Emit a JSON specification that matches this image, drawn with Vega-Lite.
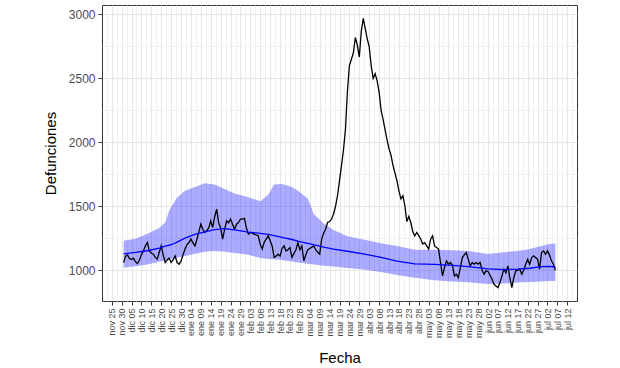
{
  "$schema": "https://vega.github.io/schema/vega-lite/v6.json",
  "width": 475,
  "height": 296,
  "autosize": {"type": "none"},
  "padding": {"left": 102, "top": 5, "right": 43, "bottom": 67},
  "background": "white",
  "config": {
    "view": {"stroke": "#333333", "strokeWidth": 1},
    "axis": {
      "labelFont": "Liberation Sans",
      "titleFont": "Liberation Sans",
      "labelColor": "#4D4D4D",
      "tickColor": "#333333",
      "domain": false,
      "gridColor": "#E6E6E6",
      "gridWidth": 1,
      "titleFontWeight": "normal",
      "titleColor": "#000000",
      "titleFontSize": 15,
      "tickSize": 4,
      "labelPadding": 3
    }
  },
  "datasets": {
    "obs": [
      {"fecha": "2019-12-01", "defunciones": 1060}, {"fecha": "2019-12-02", "defunciones": 1110}, {"fecha": "2019-12-03", "defunciones": 1120}, {"fecha": "2019-12-04", "defunciones": 1090}, {"fecha": "2019-12-05", "defunciones": 1085}, {"fecha": "2019-12-06", "defunciones": 1094}, {"fecha": "2019-12-07", "defunciones": 1065}, {"fecha": "2019-12-08", "defunciones": 1052}, {"fecha": "2019-12-09", "defunciones": 1080}, {"fecha": "2019-12-10", "defunciones": 1120},
      {"fecha": "2019-12-11", "defunciones": 1151}, {"fecha": "2019-12-12", "defunciones": 1190}, {"fecha": "2019-12-13", "defunciones": 1216}, {"fecha": "2019-12-14", "defunciones": 1150}, {"fecha": "2019-12-15", "defunciones": 1135}, {"fecha": "2019-12-16", "defunciones": 1125}, {"fecha": "2019-12-17", "defunciones": 1100}, {"fecha": "2019-12-18", "defunciones": 1086}, {"fecha": "2019-12-19", "defunciones": 1140}, {"fecha": "2019-12-20", "defunciones": 1190},
      {"fecha": "2019-12-21", "defunciones": 1120}, {"fecha": "2019-12-22", "defunciones": 1060}, {"fecha": "2019-12-23", "defunciones": 1080}, {"fecha": "2019-12-24", "defunciones": 1094}, {"fecha": "2019-12-25", "defunciones": 1060}, {"fecha": "2019-12-26", "defunciones": 1080}, {"fecha": "2019-12-27", "defunciones": 1112}, {"fecha": "2019-12-28", "defunciones": 1060}, {"fecha": "2019-12-29", "defunciones": 1047}, {"fecha": "2019-12-30", "defunciones": 1070},
      {"fecha": "2019-12-31", "defunciones": 1120}, {"fecha": "2020-01-01", "defunciones": 1165}, {"fecha": "2020-01-02", "defunciones": 1200}, {"fecha": "2020-01-03", "defunciones": 1216}, {"fecha": "2020-01-04", "defunciones": 1243}, {"fecha": "2020-01-05", "defunciones": 1215}, {"fecha": "2020-01-06", "defunciones": 1190}, {"fecha": "2020-01-07", "defunciones": 1240}, {"fecha": "2020-01-08", "defunciones": 1300}, {"fecha": "2020-01-09", "defunciones": 1360},
      {"fecha": "2020-01-10", "defunciones": 1320}, {"fecha": "2020-01-11", "defunciones": 1295}, {"fecha": "2020-01-12", "defunciones": 1310}, {"fecha": "2020-01-13", "defunciones": 1330}, {"fecha": "2020-01-14", "defunciones": 1386}, {"fecha": "2020-01-15", "defunciones": 1334}, {"fecha": "2020-01-16", "defunciones": 1420}, {"fecha": "2020-01-17", "defunciones": 1478}, {"fecha": "2020-01-18", "defunciones": 1370}, {"fecha": "2020-01-19", "defunciones": 1330},
      {"fecha": "2020-01-20", "defunciones": 1243}, {"fecha": "2020-01-21", "defunciones": 1320}, {"fecha": "2020-01-22", "defunciones": 1386}, {"fecha": "2020-01-23", "defunciones": 1370}, {"fecha": "2020-01-24", "defunciones": 1400}, {"fecha": "2020-01-25", "defunciones": 1360}, {"fecha": "2020-01-26", "defunciones": 1321}, {"fecha": "2020-01-27", "defunciones": 1360}, {"fecha": "2020-01-28", "defunciones": 1373}, {"fecha": "2020-01-29", "defunciones": 1400},
      {"fecha": "2020-01-30", "defunciones": 1400}, {"fecha": "2020-01-31", "defunciones": 1405}, {"fecha": "2020-02-01", "defunciones": 1330}, {"fecha": "2020-02-02", "defunciones": 1282}, {"fecha": "2020-02-03", "defunciones": 1295}, {"fecha": "2020-02-04", "defunciones": 1290}, {"fecha": "2020-02-05", "defunciones": 1282}, {"fecha": "2020-02-06", "defunciones": 1275}, {"fecha": "2020-02-07", "defunciones": 1269}, {"fecha": "2020-02-08", "defunciones": 1200},
      {"fecha": "2020-02-09", "defunciones": 1165}, {"fecha": "2020-02-10", "defunciones": 1220}, {"fecha": "2020-02-11", "defunciones": 1243}, {"fecha": "2020-02-12", "defunciones": 1269}, {"fecha": "2020-02-13", "defunciones": 1230}, {"fecha": "2020-02-14", "defunciones": 1190}, {"fecha": "2020-02-15", "defunciones": 1100}, {"fecha": "2020-02-16", "defunciones": 1110}, {"fecha": "2020-02-17", "defunciones": 1125}, {"fecha": "2020-02-18", "defunciones": 1110},
      {"fecha": "2020-02-19", "defunciones": 1170}, {"fecha": "2020-02-20", "defunciones": 1190}, {"fecha": "2020-02-21", "defunciones": 1150}, {"fecha": "2020-02-22", "defunciones": 1160}, {"fecha": "2020-02-23", "defunciones": 1177}, {"fecha": "2020-02-24", "defunciones": 1100}, {"fecha": "2020-02-25", "defunciones": 1130}, {"fecha": "2020-02-26", "defunciones": 1160}, {"fecha": "2020-02-27", "defunciones": 1216}, {"fecha": "2020-02-28", "defunciones": 1160},
      {"fecha": "2020-02-29", "defunciones": 1190}, {"fecha": "2020-03-01", "defunciones": 1073}, {"fecha": "2020-03-02", "defunciones": 1120}, {"fecha": "2020-03-03", "defunciones": 1160}, {"fecha": "2020-03-04", "defunciones": 1170}, {"fecha": "2020-03-05", "defunciones": 1180}, {"fecha": "2020-03-06", "defunciones": 1190}, {"fecha": "2020-03-07", "defunciones": 1160}, {"fecha": "2020-03-08", "defunciones": 1140}, {"fecha": "2020-03-09", "defunciones": 1125},
      {"fecha": "2020-03-10", "defunciones": 1243}, {"fecha": "2020-03-11", "defunciones": 1290}, {"fecha": "2020-03-12", "defunciones": 1320}, {"fecha": "2020-03-13", "defunciones": 1373}, {"fecha": "2020-03-14", "defunciones": 1380}, {"fecha": "2020-03-15", "defunciones": 1400}, {"fecha": "2020-03-16", "defunciones": 1440}, {"fecha": "2020-03-17", "defunciones": 1500}, {"fecha": "2020-03-18", "defunciones": 1583}, {"fecha": "2020-03-19", "defunciones": 1700},
      {"fecha": "2020-03-20", "defunciones": 1818}, {"fecha": "2020-03-21", "defunciones": 1940}, {"fecha": "2020-03-22", "defunciones": 2100}, {"fecha": "2020-03-23", "defunciones": 2400}, {"fecha": "2020-03-24", "defunciones": 2600}, {"fecha": "2020-03-25", "defunciones": 2650}, {"fecha": "2020-03-26", "defunciones": 2700}, {"fecha": "2020-03-27", "defunciones": 2820}, {"fecha": "2020-03-28", "defunciones": 2760}, {"fecha": "2020-03-29", "defunciones": 2667},
      {"fecha": "2020-03-30", "defunciones": 2870}, {"fecha": "2020-03-31", "defunciones": 2969}, {"fecha": "2020-04-01", "defunciones": 2890}, {"fecha": "2020-04-02", "defunciones": 2810}, {"fecha": "2020-04-03", "defunciones": 2746}, {"fecha": "2020-04-04", "defunciones": 2600}, {"fecha": "2020-04-05", "defunciones": 2500}, {"fecha": "2020-04-06", "defunciones": 2537}, {"fecha": "2020-04-07", "defunciones": 2480}, {"fecha": "2020-04-08", "defunciones": 2393},
      {"fecha": "2020-04-09", "defunciones": 2250}, {"fecha": "2020-04-10", "defunciones": 2180}, {"fecha": "2020-04-11", "defunciones": 2100}, {"fecha": "2020-04-12", "defunciones": 2020}, {"fecha": "2020-04-13", "defunciones": 1950}, {"fecha": "2020-04-14", "defunciones": 1900}, {"fecha": "2020-04-15", "defunciones": 1820}, {"fecha": "2020-04-16", "defunciones": 1760}, {"fecha": "2020-04-17", "defunciones": 1700}, {"fecha": "2020-04-18", "defunciones": 1620},
      {"fecha": "2020-04-19", "defunciones": 1558}, {"fecha": "2020-04-20", "defunciones": 1583}, {"fecha": "2020-04-21", "defunciones": 1504}, {"fecha": "2020-04-22", "defunciones": 1380}, {"fecha": "2020-04-23", "defunciones": 1420}, {"fecha": "2020-04-24", "defunciones": 1373}, {"fecha": "2020-04-25", "defunciones": 1300}, {"fecha": "2020-04-26", "defunciones": 1269}, {"fecha": "2020-04-27", "defunciones": 1295}, {"fecha": "2020-04-28", "defunciones": 1270},
      {"fecha": "2020-04-29", "defunciones": 1243}, {"fecha": "2020-04-30", "defunciones": 1204}, {"fecha": "2020-05-01", "defunciones": 1215}, {"fecha": "2020-05-02", "defunciones": 1190}, {"fecha": "2020-05-03", "defunciones": 1165}, {"fecha": "2020-05-04", "defunciones": 1243}, {"fecha": "2020-05-05", "defunciones": 1269}, {"fecha": "2020-05-06", "defunciones": 1190}, {"fecha": "2020-05-07", "defunciones": 1177}, {"fecha": "2020-05-08", "defunciones": 1165},
      {"fecha": "2020-05-09", "defunciones": 1060}, {"fecha": "2020-05-10", "defunciones": 955}, {"fecha": "2020-05-11", "defunciones": 1020}, {"fecha": "2020-05-12", "defunciones": 1073}, {"fecha": "2020-05-13", "defunciones": 1047}, {"fecha": "2020-05-14", "defunciones": 1060}, {"fecha": "2020-05-15", "defunciones": 1040}, {"fecha": "2020-05-16", "defunciones": 955}, {"fecha": "2020-05-17", "defunciones": 969}, {"fecha": "2020-05-18", "defunciones": 942},
      {"fecha": "2020-05-19", "defunciones": 1020}, {"fecha": "2020-05-20", "defunciones": 1099}, {"fecha": "2020-05-21", "defunciones": 1120}, {"fecha": "2020-05-22", "defunciones": 1138}, {"fecha": "2020-05-23", "defunciones": 1086}, {"fecha": "2020-05-24", "defunciones": 1034}, {"fecha": "2020-05-25", "defunciones": 1060}, {"fecha": "2020-05-26", "defunciones": 1047}, {"fecha": "2020-05-27", "defunciones": 1060}, {"fecha": "2020-05-28", "defunciones": 1047},
      {"fecha": "2020-05-29", "defunciones": 1060}, {"fecha": "2020-05-30", "defunciones": 1000}, {"fecha": "2020-05-31", "defunciones": 969}, {"fecha": "2020-06-01", "defunciones": 995}, {"fecha": "2020-06-02", "defunciones": 990}, {"fecha": "2020-06-03", "defunciones": 960}, {"fecha": "2020-06-04", "defunciones": 929}, {"fecha": "2020-06-05", "defunciones": 890}, {"fecha": "2020-06-06", "defunciones": 877}, {"fecha": "2020-06-07", "defunciones": 864},
      {"fecha": "2020-06-08", "defunciones": 903}, {"fecha": "2020-06-09", "defunciones": 955}, {"fecha": "2020-06-10", "defunciones": 1008}, {"fecha": "2020-06-11", "defunciones": 980}, {"fecha": "2020-06-12", "defunciones": 1034}, {"fecha": "2020-06-13", "defunciones": 940}, {"fecha": "2020-06-14", "defunciones": 864}, {"fecha": "2020-06-15", "defunciones": 942}, {"fecha": "2020-06-16", "defunciones": 995}, {"fecha": "2020-06-17", "defunciones": 1000},
      {"fecha": "2020-06-18", "defunciones": 1008}, {"fecha": "2020-06-19", "defunciones": 969}, {"fecha": "2020-06-20", "defunciones": 1000}, {"fecha": "2020-06-21", "defunciones": 1047}, {"fecha": "2020-06-22", "defunciones": 1086}, {"fecha": "2020-06-23", "defunciones": 1047}, {"fecha": "2020-06-24", "defunciones": 1099}, {"fecha": "2020-06-25", "defunciones": 1112}, {"fecha": "2020-06-26", "defunciones": 1100}, {"fecha": "2020-06-27", "defunciones": 1086},
      {"fecha": "2020-06-28", "defunciones": 1008}, {"fecha": "2020-06-29", "defunciones": 1138}, {"fecha": "2020-06-30", "defunciones": 1151}, {"fecha": "2020-07-01", "defunciones": 1125}, {"fecha": "2020-07-02", "defunciones": 1151}, {"fecha": "2020-07-03", "defunciones": 1120}, {"fecha": "2020-07-04", "defunciones": 1073}, {"fecha": "2020-07-05", "defunciones": 1047}, {"fecha": "2020-07-06", "defunciones": 1000}
    ],
    "modelo": [
      {"fecha": "2019-12-01", "esperadas": 1128, "inferior": 1020, "superior": 1230},
      {"fecha": "2019-12-07", "esperadas": 1140, "inferior": 1030, "superior": 1245},
      {"fecha": "2019-12-13", "esperadas": 1152, "inferior": 1045, "superior": 1285},
      {"fecha": "2019-12-19", "esperadas": 1172, "inferior": 1065, "superior": 1330},
      {"fecha": "2019-12-22", "esperadas": 1188, "inferior": 1075, "superior": 1373},
      {"fecha": "2019-12-24", "esperadas": 1195, "inferior": 1082, "superior": 1465},
      {"fecha": "2019-12-26", "esperadas": 1205, "inferior": 1090, "superior": 1520},
      {"fecha": "2019-12-28", "esperadas": 1220, "inferior": 1098, "superior": 1569},
      {"fecha": "2020-01-01", "esperadas": 1250, "inferior": 1110, "superior": 1622},
      {"fecha": "2020-01-06", "esperadas": 1280, "inferior": 1128, "superior": 1650},
      {"fecha": "2020-01-11", "esperadas": 1300, "inferior": 1145, "superior": 1679},
      {"fecha": "2020-01-16", "esperadas": 1318, "inferior": 1150, "superior": 1670},
      {"fecha": "2020-01-21", "esperadas": 1325, "inferior": 1145, "superior": 1635},
      {"fecha": "2020-01-26", "esperadas": 1315, "inferior": 1135, "superior": 1600},
      {"fecha": "2020-02-02", "esperadas": 1298, "inferior": 1120, "superior": 1570},
      {"fecha": "2020-02-08", "esperadas": 1288, "inferior": 1095, "superior": 1540},
      {"fecha": "2020-02-12", "esperadas": 1280, "inferior": 1088, "superior": 1590},
      {"fecha": "2020-02-15", "esperadas": 1270, "inferior": 1085, "superior": 1670},
      {"fecha": "2020-02-19", "esperadas": 1256, "inferior": 1080, "superior": 1675},
      {"fecha": "2020-02-24", "esperadas": 1240, "inferior": 1068, "superior": 1650},
      {"fecha": "2020-02-27", "esperadas": 1228, "inferior": 1060, "superior": 1622},
      {"fecha": "2020-03-03", "esperadas": 1210, "inferior": 1050, "superior": 1560},
      {"fecha": "2020-03-06", "esperadas": 1200, "inferior": 1045, "superior": 1440},
      {"fecha": "2020-03-11", "esperadas": 1180, "inferior": 1034, "superior": 1365},
      {"fecha": "2020-03-16", "esperadas": 1165, "inferior": 1028, "superior": 1315},
      {"fecha": "2020-03-23", "esperadas": 1148, "inferior": 1018, "superior": 1265},
      {"fecha": "2020-03-31", "esperadas": 1128, "inferior": 1005, "superior": 1240},
      {"fecha": "2020-04-09", "esperadas": 1100, "inferior": 985, "superior": 1210},
      {"fecha": "2020-04-17", "esperadas": 1070, "inferior": 962, "superior": 1190},
      {"fecha": "2020-04-26", "esperadas": 1050, "inferior": 940, "superior": 1160},
      {"fecha": "2020-05-06", "esperadas": 1045, "inferior": 922, "superior": 1160},
      {"fecha": "2020-05-15", "esperadas": 1038, "inferior": 912, "superior": 1155},
      {"fecha": "2020-05-23", "esperadas": 1028, "inferior": 905, "superior": 1150},
      {"fecha": "2020-06-02", "esperadas": 1010, "inferior": 892, "superior": 1127},
      {"fecha": "2020-06-10", "esperadas": 1005, "inferior": 895, "superior": 1140},
      {"fecha": "2020-06-17", "esperadas": 1008, "inferior": 903, "superior": 1151},
      {"fecha": "2020-06-23", "esperadas": 1015, "inferior": 908, "superior": 1165},
      {"fecha": "2020-06-29", "esperadas": 1028, "inferior": 912, "superior": 1190},
      {"fecha": "2020-07-03", "esperadas": 1030, "inferior": 915, "superior": 1205},
      {"fecha": "2020-07-06", "esperadas": 1025, "inferior": 916, "superior": 1209}
    ]
  },
  "layer": [
    {
      "data": {"name": "modelo"},
      "mark": {"type": "area", "color": "#0000FF", "opacity": 0.33},
      "encoding": {
        "x": {
          "field": "fecha", "type": "temporal",
          "scale": {"type": "utc", "domain": [{"year": 2019, "month": 11, "date": 20, "hours": 2, "minutes": 24, "utc": true}, {"year": 2020, "month": 7, "date": 16, "hours": 21, "minutes": 36, "utc": true}]},
          "axis": {
            "orient": "bottom",
            "title": "Fecha",
            "titlePadding": 13,
            "labelAngle": -90,
            "labelFontSize": 9,
            "labelOverlap": false,
            "labelFlush": false,
            "labelBound": false,
            "grid": true,
            "gridColor": "#E6E6E6",
            "labelExpr": "['ene','feb','mar','abr','may','jun','jul','ago','sep','oct','nov','dic'][utcmonth(datum.value)] + ' ' + utcFormat(datum.value, '%d')",
            "values": [
              {"year": 2019, "month": 11, "date": 25, "utc": true}, {"year": 2019, "month": 11, "date": 30, "utc": true},
              {"year": 2019, "month": 12, "date": 5, "utc": true}, {"year": 2019, "month": 12, "date": 10, "utc": true}, {"year": 2019, "month": 12, "date": 15, "utc": true}, {"year": 2019, "month": 12, "date": 20, "utc": true}, {"year": 2019, "month": 12, "date": 25, "utc": true}, {"year": 2019, "month": 12, "date": 30, "utc": true},
              {"year": 2020, "month": 1, "date": 4, "utc": true}, {"year": 2020, "month": 1, "date": 9, "utc": true}, {"year": 2020, "month": 1, "date": 14, "utc": true}, {"year": 2020, "month": 1, "date": 19, "utc": true}, {"year": 2020, "month": 1, "date": 24, "utc": true}, {"year": 2020, "month": 1, "date": 29, "utc": true},
              {"year": 2020, "month": 2, "date": 3, "utc": true}, {"year": 2020, "month": 2, "date": 8, "utc": true}, {"year": 2020, "month": 2, "date": 13, "utc": true}, {"year": 2020, "month": 2, "date": 18, "utc": true}, {"year": 2020, "month": 2, "date": 23, "utc": true}, {"year": 2020, "month": 2, "date": 28, "utc": true},
              {"year": 2020, "month": 3, "date": 4, "utc": true}, {"year": 2020, "month": 3, "date": 9, "utc": true}, {"year": 2020, "month": 3, "date": 14, "utc": true}, {"year": 2020, "month": 3, "date": 19, "utc": true}, {"year": 2020, "month": 3, "date": 24, "utc": true}, {"year": 2020, "month": 3, "date": 29, "utc": true},
              {"year": 2020, "month": 4, "date": 3, "utc": true}, {"year": 2020, "month": 4, "date": 8, "utc": true}, {"year": 2020, "month": 4, "date": 13, "utc": true}, {"year": 2020, "month": 4, "date": 18, "utc": true}, {"year": 2020, "month": 4, "date": 23, "utc": true}, {"year": 2020, "month": 4, "date": 28, "utc": true},
              {"year": 2020, "month": 5, "date": 3, "utc": true}, {"year": 2020, "month": 5, "date": 8, "utc": true}, {"year": 2020, "month": 5, "date": 13, "utc": true}, {"year": 2020, "month": 5, "date": 18, "utc": true}, {"year": 2020, "month": 5, "date": 23, "utc": true}, {"year": 2020, "month": 5, "date": 28, "utc": true},
              {"year": 2020, "month": 6, "date": 2, "utc": true}, {"year": 2020, "month": 6, "date": 7, "utc": true}, {"year": 2020, "month": 6, "date": 12, "utc": true}, {"year": 2020, "month": 6, "date": 17, "utc": true}, {"year": 2020, "month": 6, "date": 22, "utc": true}, {"year": 2020, "month": 6, "date": 27, "utc": true},
              {"year": 2020, "month": 7, "date": 2, "utc": true}, {"year": 2020, "month": 7, "date": 7, "utc": true}, {"year": 2020, "month": 7, "date": 12, "utc": true}
            ]
          }
        },
        "y": {
          "field": "inferior", "type": "quantitative",
          "scale": {"domain": [759, 3074], "nice": false, "zero": false},
          "axis": {
            "orient": "left",
            "title": "Defunciones",
            "titlePadding": 10,
            "labelFontSize": 12,
            "format": "d",
            "grid": true,
            "gridColor": "#E6E6E6",
            "values": [1000, 1500, 2000, 2500, 3000]
          }
        },
        "y2": {"field": "superior"}
      }
    },
    {
      "data": {"name": "obs"},
      "mark": {"type": "line", "color": "#000000", "strokeWidth": 1.3},
      "encoding": {
        "x": {
          "field": "fecha", "type": "temporal",
          "axis": {
            "orient": "top", "title": null, "labels": false, "ticks": false, "domain": false,
            "grid": true, "gridColor": "#F1F1F1",
            "values": [
              {"year": 2019, "month": 11, "date": 22, "hours": 12, "utc": true}, {"year": 2019, "month": 11, "date": 27, "hours": 12, "utc": true},
              {"year": 2019, "month": 12, "date": 2, "hours": 12, "utc": true}, {"year": 2019, "month": 12, "date": 7, "hours": 12, "utc": true}, {"year": 2019, "month": 12, "date": 12, "hours": 12, "utc": true}, {"year": 2019, "month": 12, "date": 17, "hours": 12, "utc": true}, {"year": 2019, "month": 12, "date": 22, "hours": 12, "utc": true}, {"year": 2019, "month": 12, "date": 27, "hours": 12, "utc": true},
              {"year": 2020, "month": 1, "date": 1, "hours": 12, "utc": true}, {"year": 2020, "month": 1, "date": 6, "hours": 12, "utc": true}, {"year": 2020, "month": 1, "date": 11, "hours": 12, "utc": true}, {"year": 2020, "month": 1, "date": 16, "hours": 12, "utc": true}, {"year": 2020, "month": 1, "date": 21, "hours": 12, "utc": true}, {"year": 2020, "month": 1, "date": 26, "hours": 12, "utc": true}, {"year": 2020, "month": 1, "date": 31, "hours": 12, "utc": true},
              {"year": 2020, "month": 2, "date": 5, "hours": 12, "utc": true}, {"year": 2020, "month": 2, "date": 10, "hours": 12, "utc": true}, {"year": 2020, "month": 2, "date": 15, "hours": 12, "utc": true}, {"year": 2020, "month": 2, "date": 20, "hours": 12, "utc": true}, {"year": 2020, "month": 2, "date": 25, "hours": 12, "utc": true},
              {"year": 2020, "month": 3, "date": 1, "hours": 12, "utc": true}, {"year": 2020, "month": 3, "date": 6, "hours": 12, "utc": true}, {"year": 2020, "month": 3, "date": 11, "hours": 12, "utc": true}, {"year": 2020, "month": 3, "date": 16, "hours": 12, "utc": true}, {"year": 2020, "month": 3, "date": 21, "hours": 12, "utc": true}, {"year": 2020, "month": 3, "date": 26, "hours": 12, "utc": true}, {"year": 2020, "month": 3, "date": 31, "hours": 12, "utc": true},
              {"year": 2020, "month": 4, "date": 5, "hours": 12, "utc": true}, {"year": 2020, "month": 4, "date": 10, "hours": 12, "utc": true}, {"year": 2020, "month": 4, "date": 15, "hours": 12, "utc": true}, {"year": 2020, "month": 4, "date": 20, "hours": 12, "utc": true}, {"year": 2020, "month": 4, "date": 25, "hours": 12, "utc": true}, {"year": 2020, "month": 4, "date": 30, "hours": 12, "utc": true},
              {"year": 2020, "month": 5, "date": 5, "hours": 12, "utc": true}, {"year": 2020, "month": 5, "date": 10, "hours": 12, "utc": true}, {"year": 2020, "month": 5, "date": 15, "hours": 12, "utc": true}, {"year": 2020, "month": 5, "date": 20, "hours": 12, "utc": true}, {"year": 2020, "month": 5, "date": 25, "hours": 12, "utc": true}, {"year": 2020, "month": 5, "date": 30, "hours": 12, "utc": true},
              {"year": 2020, "month": 6, "date": 4, "hours": 12, "utc": true}, {"year": 2020, "month": 6, "date": 9, "hours": 12, "utc": true}, {"year": 2020, "month": 6, "date": 14, "hours": 12, "utc": true}, {"year": 2020, "month": 6, "date": 19, "hours": 12, "utc": true}, {"year": 2020, "month": 6, "date": 24, "hours": 12, "utc": true}, {"year": 2020, "month": 6, "date": 29, "hours": 12, "utc": true},
              {"year": 2020, "month": 7, "date": 4, "hours": 12, "utc": true}, {"year": 2020, "month": 7, "date": 9, "hours": 12, "utc": true}, {"year": 2020, "month": 7, "date": 14, "hours": 12, "utc": true}
            ]
          }
        },
        "y": {
          "field": "defunciones", "type": "quantitative",
          "axis": {
            "orient": "right", "title": null, "labels": false, "ticks": false, "domain": false,
            "grid": true, "gridColor": "#F1F1F1",
            "values": [1250, 1750, 2250, 2750]
          }
        }
      }
    },
    {
      "data": {"name": "modelo"},
      "mark": {"type": "line", "color": "#0000FF", "strokeWidth": 1.3},
      "encoding": {
        "x": {"field": "fecha", "type": "temporal", "axis": null},
        "y": {"field": "esperadas", "type": "quantitative", "axis": null}
      }
    }
  ],
  "resolve": {"axis": {"x": "independent", "y": "independent"}}
}
